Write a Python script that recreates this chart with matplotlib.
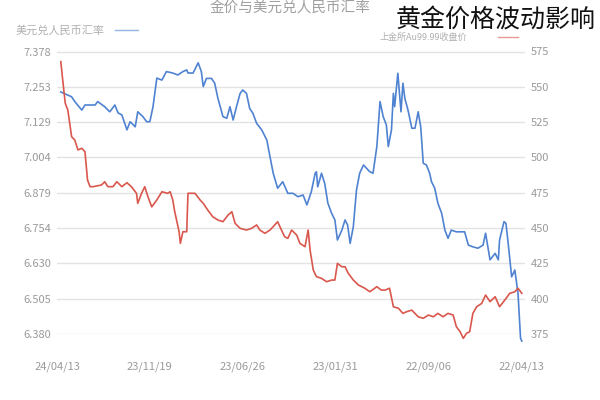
import matplotlib
matplotlib.use("Agg")
import matplotlib.pyplot as plt
import pandas as pd

plt.rcParams['font.family'] = ['Noto Sans CJK SC', 'DejaVu Sans']

start_date = "2022-04-13"

# USD/CNY (left axis): days after start, value
usd_days = [725, 708, 703, 692, 687, 671, 667, 656, 648, 640, 635, 629, 621, 616, 608, 604,
            596, 590, 585, 580, 574, 566, 559, 549, 541, 533, 527, 525, 517, 509, 504, 501,
            496, 488, 483, 478, 470, 464, 459, 454, 448, 443, 439, 433, 428, 423, 417, 409,
            401, 396, 391, 384, 376, 368, 360, 352, 344, 338, 331, 325, 323, 321, 315, 310,
            305, 299, 294, 290, 283, 278, 274, 270, 265, 260, 255, 249, 244, 239, 234, 228,
            223, 218, 213, 210, 205, 202, 200, 195, 190, 187, 184, 179, 173, 168, 163, 159,
            155, 150, 145, 142, 137, 132, 126, 121, 116, 111, 103, 95, 90, 84, 77, 69,
            61, 57, 50, 42, 37, 35, 28, 25, 22, 16, 11, 6, 2, 0]
usd_vals = [7.235, 7.218, 7.201, 7.171, 7.189, 7.189, 7.201, 7.183, 7.165, 7.189, 7.161, 7.154,
            7.101, 7.130, 7.112, 7.165, 7.148, 7.130, 7.130, 7.183, 7.284, 7.277, 7.307, 7.302,
            7.295, 7.307, 7.313, 7.302, 7.302, 7.338, 7.307, 7.254, 7.283, 7.283, 7.266, 7.213,
            7.148, 7.142, 7.183, 7.136, 7.189, 7.230, 7.242, 7.230, 7.177, 7.160, 7.124, 7.101,
            7.065, 7.006, 6.948, 6.895, 6.918, 6.877, 6.877, 6.865, 6.871, 6.836, 6.883, 6.948,
            6.953, 6.900, 6.948, 6.912, 6.842, 6.806, 6.783, 6.712, 6.747, 6.783, 6.765, 6.700,
            6.759, 6.889, 6.948, 6.977, 6.965, 6.953, 6.948, 7.042, 7.201, 7.148, 7.118, 7.042,
            7.101, 7.230, 7.183, 7.301, 7.165, 7.266, 7.213, 7.171, 7.107, 7.107, 7.165, 7.112,
            6.983, 6.977, 6.948, 6.918, 6.895, 6.842, 6.806, 6.747, 6.718, 6.747, 6.741, 6.741,
            6.741, 6.694, 6.688, 6.683, 6.694, 6.736, 6.642, 6.665, 6.642, 6.712, 6.777, 6.771,
            6.712, 6.582, 6.606, 6.524, 6.365, 6.355]

# SGE Au99.99 close (right axis): days after start, value
gold_days = [725, 722, 718, 714, 708, 703, 698, 692, 687, 683, 679, 674, 661, 656, 651, 643,
             637, 629, 621, 614, 606, 604, 598, 593, 588, 582, 574, 566, 557, 553, 549, 546,
             543, 539, 537, 533, 527, 525, 519, 514, 506, 501, 494, 486, 478, 470, 462, 456,
             451, 443, 433, 425, 417, 412, 404, 396, 391, 384, 378, 373, 368, 362, 354, 349,
             341, 336, 333, 328, 323, 315, 307, 299, 294, 290, 283, 278, 273, 265, 257, 247,
             239, 228, 221, 215, 208, 202, 194, 187, 181, 173, 163, 155, 147, 139, 132, 124,
             116, 108, 103, 97, 92, 87, 82, 77, 71, 63, 57, 50, 42, 35, 27, 19, 11, 6, 0]
gold_vals = [567.8, 554.8, 538.3, 533.6, 514.7, 512.3, 505.3, 506.5, 504.0, 484.0, 479.3, 479.3,
             480.5, 482.8, 479.3, 479.3, 482.8, 479.3, 482.1, 479.3, 474.6, 467.5, 474.6, 479.3,
             472.2, 465.0, 469.9, 475.7, 474.6, 475.7, 470.0, 462.0, 455.7, 447.4, 439.2, 447.4,
             447.4, 474.6, 474.6, 474.6, 469.9, 467.5, 462.8, 458.0, 455.7, 454.5, 459.2, 461.6,
             453.4, 449.8, 448.6, 449.8, 452.2, 448.6, 446.3, 448.6, 451.0, 454.5, 448.6, 443.9,
             442.7, 448.6, 445.0, 439.2, 436.8, 448.6, 434.5, 420.3, 415.6, 414.4, 412.0, 413.2,
             413.2, 425.0, 422.6, 422.6, 418.0, 413.2, 409.7, 407.4, 404.9, 408.5, 406.1, 406.1,
             407.4, 394.3, 393.2, 389.6, 390.8, 391.9, 387.2, 386.1, 388.4, 387.2, 389.6, 387.2,
             389.6, 388.4, 380.2, 376.6, 371.9, 375.5, 376.6, 389.6, 394.3, 396.7, 402.6, 397.9,
             401.4, 394.3, 398.9, 403.8, 404.9, 407.4, 403.8]

left_ticks = [6.380, 6.505, 6.630, 6.754, 6.879, 7.004, 7.129, 7.253, 7.378]
left_labels = ["6.380", "6.505", "6.630", "6.754", "6.879", "7.004", "7.129", "7.253", "7.378"]
right_ticks = [375, 400, 425, 450, 475, 500, 525, 550, 575]
x_tick_dates = ["2024-04-13", "2023-11-19", "2023-06-26", "2023-01-31", "2022-09-06", "2022-04-13"]
x_tick_labels = ["24/04/13", "23/11/19", "23/06/26", "23/01/31", "22/09/06", "22/04/13"]

usd_name = "美元兑人民币汇率"
gold_name = "上金所Au99.99收盘价"
chart_title = "金价与美元兑人民币汇率"
overlay_title = "黄金价格波动影响"

t0 = pd.Timestamp(start_date)
usd_x = t0 + pd.to_timedelta(usd_days, unit="D")
gold_x = t0 + pd.to_timedelta(gold_days, unit="D")

blue = "#4f83d1"
red = "#d9574d"
grey = "#9a9a9a"

fig = plt.figure(figsize=(6, 4), dpi=100)
ax = fig.add_axes([57 / 600, 1 - 334 / 400, (525 - 57) / 600, (334 - 51.5) / 400])
ax2 = ax.twinx()

ax.plot(usd_x, usd_vals, color=blue, lw=1.2, zorder=3, clip_on=False)
ax2.plot(gold_x, gold_vals, color=red, lw=1.2, zorder=3, clip_on=False)

ax.set_ylim(6.380, 7.378)
ax2.set_ylim(375, 575)
ax.set_yticks(left_ticks)
ax.set_yticklabels(left_labels)
ax2.set_yticks(right_ticks)
ax.set_xlim(t0 + pd.Timedelta(days=731), t0 - pd.Timedelta(days=5))
ax.set_xticks(pd.to_datetime(x_tick_dates))
ax.set_xticklabels(x_tick_labels)

ax.grid(axis="y", color="#e3e3e3", lw=1)
ax.set_axisbelow(True)
for a in (ax, ax2):
    for s in a.spines.values():
        s.set_visible(False)
    a.tick_params(length=0, colors=grey, labelsize=8)
ax.tick_params(axis="x", pad=20)
ax.tick_params(axis="y", pad=4)
ax2.tick_params(axis="y", pad=4)

fig.text(290 / 600, 1 - 8 / 400, chart_title, ha="center", va="center", fontsize=10.5, color="#a0a0a0")
fig.text(16 / 600, 1 - 30 / 400, usd_name, ha="left", va="center", fontsize=8, color="#b0b0b0")
fig.add_artist(plt.Line2D([115 / 600, 138 / 600], [1 - 30 / 400, 1 - 30 / 400], color=blue, lw=1, alpha=0.6))
fig.text(380 / 600, 1 - 37 / 400, gold_name, ha="left", va="center", fontsize=6.5, color="#b0b0b0")
fig.add_artist(plt.Line2D([498 / 600, 518 / 600], [1 - 37 / 400, 1 - 37 / 400], color=red, lw=1, alpha=0.6))
fig.text(396 / 600, 1 - 20 / 400, overlay_title, ha="left", va="center", fontsize=18, color="#111111")

fig.savefig("out.png", dpi=100)
